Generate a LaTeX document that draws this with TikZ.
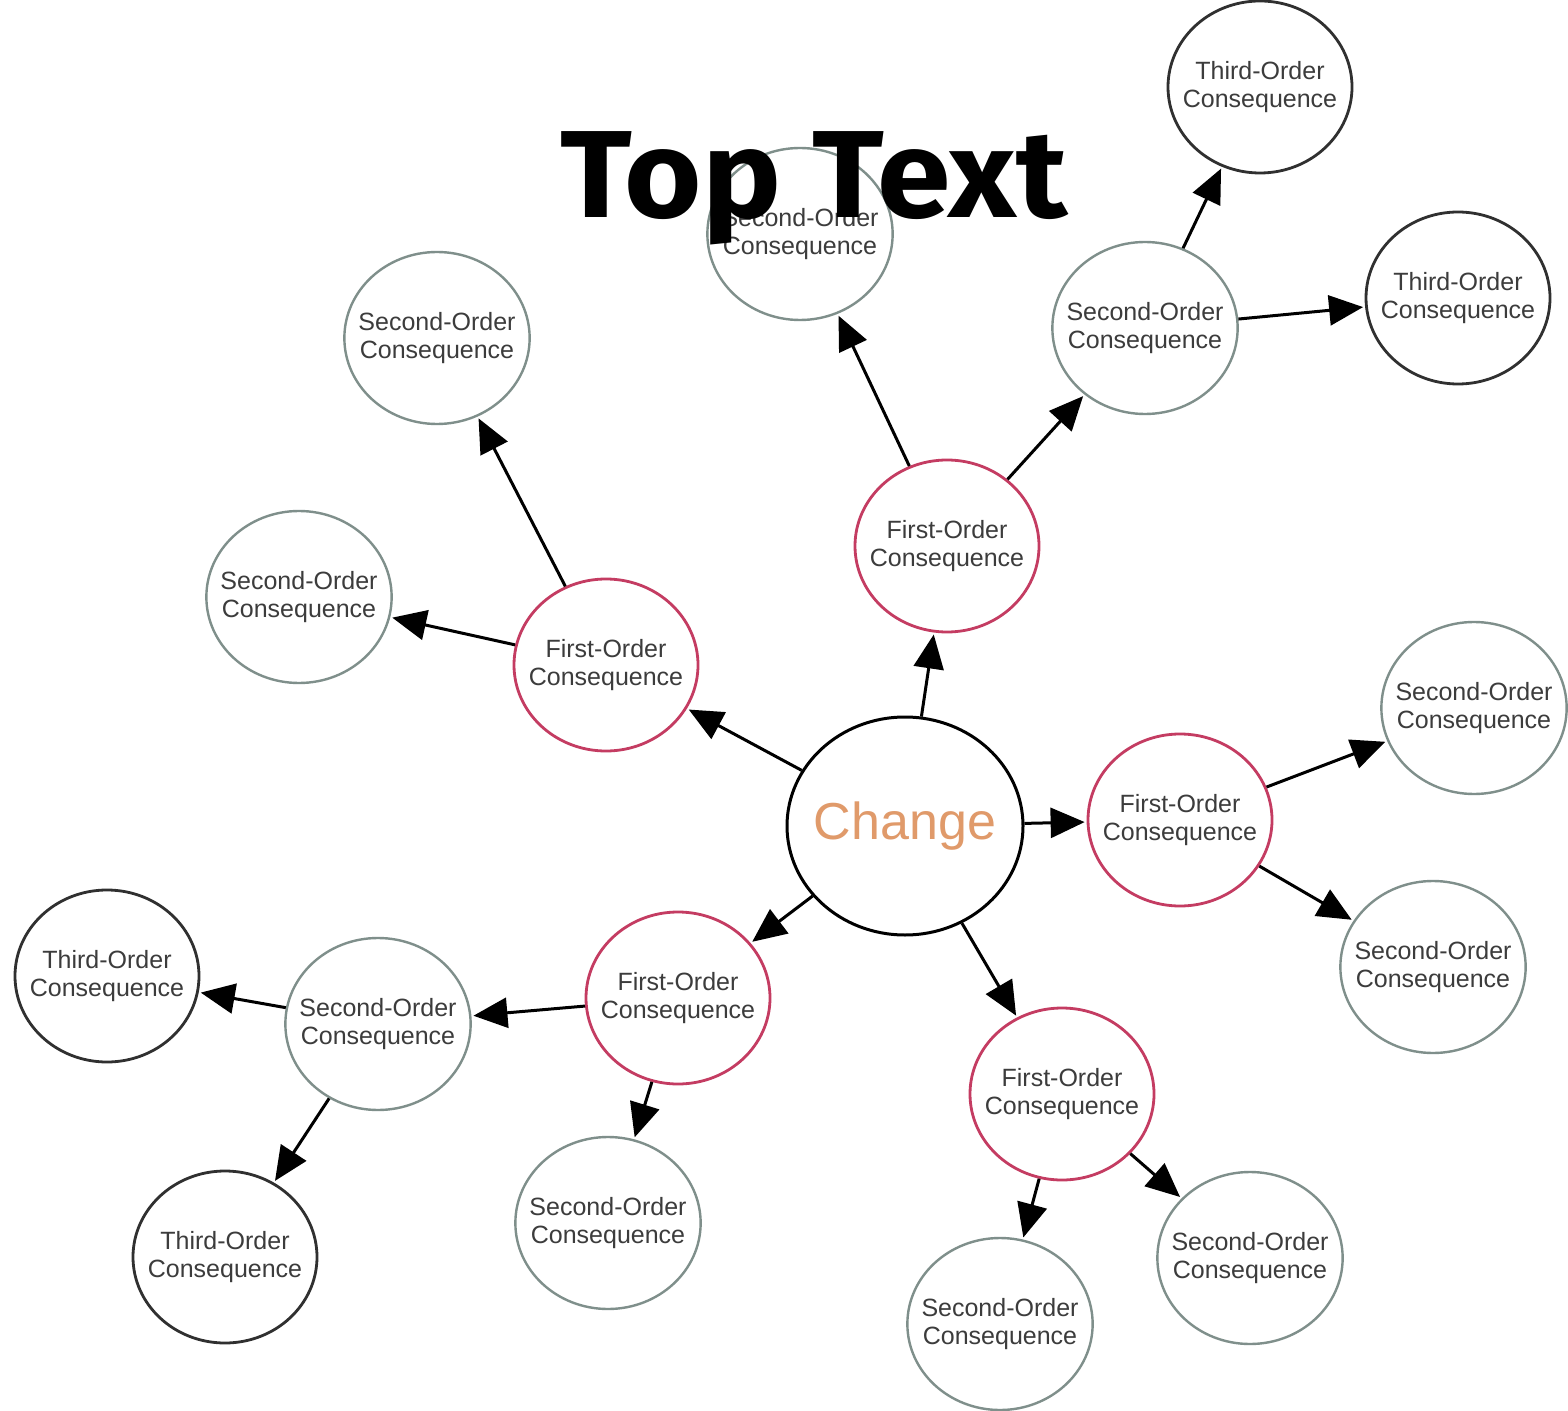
\documentclass[tikz,border=0pt]{standalone}
\usepackage{fontspec}
\setmainfont{Liberation Sans}
\newfontfamily\headfont[FakeStretch=1.07]{Fira Sans}
\usetikzlibrary{arrows.meta,shapes.geometric}
\definecolor{firstc}{HTML}{C43C62}
\definecolor{secondc}{HTML}{7F8F8B}
\definecolor{thirdc}{HTML}{303030}
\definecolor{labelc}{HTML}{3C3C3C}
\definecolor{changec}{HTML}{E09A6A}
\tikzset{
  bubble/.style={ellipse, minimum width=92pt, minimum height=86pt,
    inner xsep=-6.5pt, inner ysep=0pt,
    line width=1.4pt, fill=white, text=labelc, align=center,
    font=\fontsize{12.5}{14}\selectfont},
  firstord/.style={bubble, draw=firstc},
  secondord/.style={bubble, draw=secondc, line width=1.2pt},
  thirdord/.style={bubble, draw=thirdc},
  hub/.style={ellipse, draw=black, line width=1.5pt, minimum width=118pt, minimum height=109pt,
    inner xsep=-6pt, inner ysep=0pt,
    text=changec, font=\fontsize{26}{28}\selectfont},
  link/.style={-{Triangle[length=17pt,width=15pt]}, line width=1.5pt, black, shorten >=1pt}
}
\begin{document}
\begin{tikzpicture}[x=0.5pt,y=-0.5pt]
\useasboundingbox (0,0) rectangle (1568,1411);
\fill[white] (0,0) rectangle (1568,1411);

% centre
\node[hub] (change) at (905,826) {Change};

% first-order ring
\node[firstord] (f1) at (947,546) {First-Order\\Consequence};
\node[firstord] (f2) at (606,665) {First-Order\\Consequence};
\node[firstord] (f3) at (1180,820) {First-Order\\Consequence};
\node[firstord] (f4) at (678,998) {First-Order\\Consequence};
\node[firstord] (f5) at (1062,1094) {First-Order\\Consequence};

% second-order ring
\node[secondord] (s1) at (800,234) {Second-Order\\Consequence};
\node[secondord] (s2) at (1145,328) {Second-Order\\Consequence};
\node[secondord] (s3) at (437,338) {Second-Order\\Consequence};
\node[secondord] (s4) at (299,597) {Second-Order\\Consequence};
\node[secondord] (s5) at (1474,708) {Second-Order\\Consequence};
\node[secondord] (s6) at (1433,967) {Second-Order\\Consequence};
\node[secondord] (s7) at (378,1024) {Second-Order\\Consequence};
\node[secondord] (s8) at (608,1223) {Second-Order\\Consequence};
\node[secondord] (s9) at (1250,1258) {Second-Order\\Consequence};
\node[secondord] (s10) at (1000,1324) {Second-Order\\Consequence};

% third-order ring
\node[thirdord] (t1) at (1260,87) {Third-Order\\Consequence};
\node[thirdord] (t2) at (1458,298) {Third-Order\\Consequence};
\node[thirdord] (t3) at (107,976) {Third-Order\\Consequence};
\node[thirdord] (t4) at (225,1257) {Third-Order\\Consequence};

% connectors
\draw[link] (change) -- (f1);
\draw[link] (change) -- (f2);
\draw[link] (change) -- (f3);
\draw[link] (change) -- (f4);
\draw[link] (change) -- (f5);

\draw[link] (f1) -- (s1);
\draw[link] (f1) -- (s2);
\draw[link] (s2) -- (t1);
\draw[link] (s2) -- (t2);
\draw[link] (f2) -- (s3);
\draw[link] (f2) -- (s4);
\draw[link] (f3) -- (s5);
\draw[link] (f3) -- (s6);
\draw[link] (f4) -- (s7);
\draw[link] (f4) -- (s8);
\draw[link] (s7) -- (t3);
\draw[link] (s7) -- (t4);
\draw[link] (f5) -- (s10);
\draw[link] (f5) -- (s9);

% title
\node[font=\headfont\bfseries\fontsize{62}{70}\selectfont, anchor=base, inner sep=0pt] (title) at (814,218) {Top Text};
\end{tikzpicture}
\end{document}
